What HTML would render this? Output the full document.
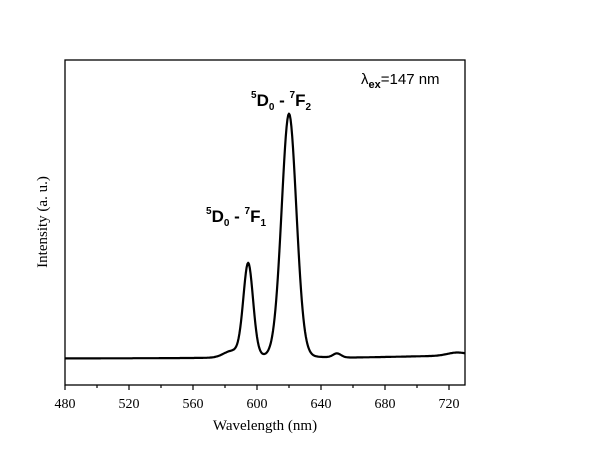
<!DOCTYPE html>
<html><head><meta charset="utf-8"><style>
body{margin:0;background:#fff;}
svg{display:block;font-family:"Liberation Sans",Arial,sans-serif;}
.s{font-family:"Liberation Serif",serif;font-size:14px;}
</style></head><body>
<svg width="602" height="466" viewBox="0 0 602 466" xmlns="http://www.w3.org/2000/svg">
<rect x="65" y="60" width="400" height="325" fill="none" stroke="#000" stroke-width="1.3"/>
<g stroke="#000" stroke-width="1.2" id="ticks"></g>
<g class="s" text-anchor="middle">
<text x="65" y="408">480</text><text x="129" y="408">520</text><text x="193" y="408">560</text>
<text x="257" y="408">600</text><text x="321" y="408">640</text><text x="385" y="408">680</text>
<text x="449" y="408">720</text>
<text x="265" y="430" font-size="15">Wavelength (nm)</text>
<text transform="translate(47,222) rotate(-90)" font-size="15">Intensity (a. u.)</text>
</g>
<path id="curve" fill="none" stroke="#000" stroke-width="2.2" stroke-linejoin="round"/>
<g font-size="17" font-weight="bold">
<text x="251" y="106"><tspan font-size="10" dy="-8">5</tspan><tspan dy="8">D</tspan><tspan font-size="10" dy="4">0</tspan><tspan dy="-4"> - </tspan><tspan font-size="10" dy="-8">7</tspan><tspan dy="8">F</tspan><tspan font-size="10" dy="4">2</tspan></text>
<text x="206" y="222"><tspan font-size="10" dy="-8">5</tspan><tspan dy="8">D</tspan><tspan font-size="10" dy="4">0</tspan><tspan dy="-4"> - </tspan><tspan font-size="10" dy="-8">7</tspan><tspan dy="8">F</tspan><tspan font-size="10" dy="4">1</tspan></text>
</g>
<text x="361" y="84" font-size="15">λ<tspan font-size="11" dy="4" font-weight="bold">ex</tspan><tspan dy="-4">=147 nm</tspan></text>
</svg>
<script>
var t=document.getElementById('ticks'),h='';
for(var w=480;w<=720;w+=20){var x=65+(w-480)*1.6;h+='<line x1="'+x+'" y1="385" x2="'+x+'" y2="'+(w%40==0?390:388)+'"/>';}
t.innerHTML=h;
function g(x,c,s){return Math.exp(-(x-c)*(x-c)/(2*s*s));}
function l(x,c,w){return 1/(1+((x-c)/w)*((x-c)/w));}
var d='';
for(var w=480;w<=730;w+=0.5){
 var y=358-(w-600)*0.004+(w>660?-(w-660)*0.03:0);
 y-=226*g(w,620,4.7)+18*l(w,620,4.5);
 y-=84*g(w,594.5,3.1)+10*l(w,594.5,3.5);
 y-=6*g(w,584,5);
 y-=4*g(w,650,2.5);
 y-=3*g(w,725,6);
 var x=65+(w-480)*1.6;
 d+=(d?'L':'M')+x.toFixed(1)+' '+y.toFixed(1);
}
document.getElementById('curve').setAttribute('d',d);
</script>
</body></html>
